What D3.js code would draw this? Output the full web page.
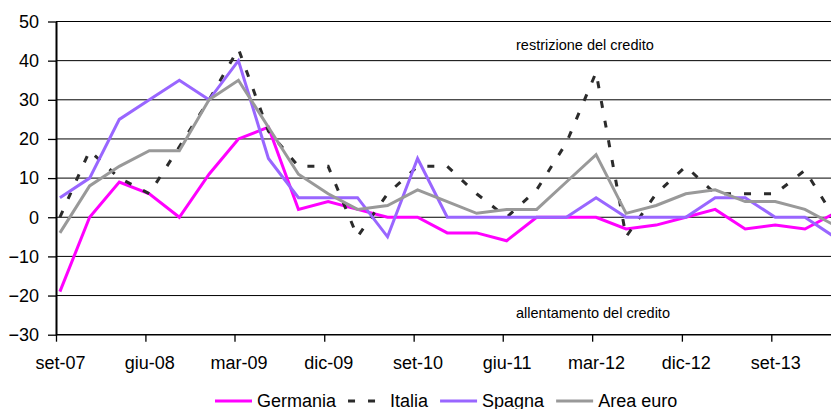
<!DOCTYPE html>
<html>
<head>
<meta charset="utf-8">
<script src="https://cdn.jsdelivr.net/npm/d3@7/dist/d3.min.js"></script>
<style>
  html, body { margin: 0; padding: 0; background: #fff; }
  svg { display: block; font-family: "Liberation Sans", Arial, sans-serif; }
</style>
</head>
<body>
<div id="chart"></div>
<script>
// quarterly survey points, set-07 .. mar-14
const quarters = ['set-07', 'dic-07', 'mar-08', 'giu-08', 'set-08', 'dic-08', 'mar-09', 'giu-09', 'set-09',
    'dic-09', 'mar-10', 'giu-10', 'set-10', 'dic-10', 'mar-11', 'giu-11', 'set-11', 'dic-11', 'mar-12',
    'giu-12', 'set-12', 'dic-12', 'mar-13', 'giu-13', 'set-13', 'dic-13', 'mar-14'];
const tickLabels = ['set-07', 'giu-08', 'mar-09', 'dic-09', 'set-10', 'giu-11', 'mar-12', 'dic-12', 'set-13'];
const yTicks = [-30, -20, -10, 0, 10, 20, 30, 40, 50];

const germania = [-19, 0, 9, 6, 0, 11, 20, 23, 2, 4, 2, 0, 0, -4, -4, -6, 0, 0, 0, -3, -2, 0, 2, -3, -2, -3, 1];
const italia = [0, 17, 10, 6, 18, 30, 43, 22, 13, 13, -5, 6, 13, 13, 6, 0, 7, 19, 37, -5, 6, 13, 6, 6, 6, 12, 0];
const spagna = [5, 10, 25, 30, 35, 30, 40, 15, 5, 5, 5, -5, 15, 0, 0, 0, 0, 0, 5, 0, 0, 0, 5, 5, 0, 0, -5];
const areaEuro = [-4, 8, 13, 17, 17, 30, 35, 23, 11, 6, 2, 3, 7, 4, 1, 2, 2, 9, 16, 1, 3, 6, 7, 4, 4, 2, -2];

const seriesNames = ['Germania', 'Italia', 'Spagna', 'Area euro'];
const seriesValues = [germania, italia, spagna, areaEuro];

(function drawChart() {
    const WIDTH = 831;
    const HEIGHT = 409;
    const PLOT_LEFT = 56;
    const FONT = 18;

    const styles = {
        'Germania': { color: '#ff00ff', dash: null },
        'Italia': { color: '#2b2b2b', dash: '7,13' },
        'Spagna': { color: '#9966ff', dash: null },
        'Area euro': { color: '#999999', dash: null }
    };

    const MONTHS = { gen: 0, feb: 1, mar: 2, apr: 3, mag: 4, giu: 5, lug: 6, ago: 7, set: 8, ott: 9, nov: 10, dic: 11 };
    const toDate = (label, day) => {
        const [m, yy] = label.split('-');
        return new Date(2000 + +yy, MONTHS[m], day);
    };

    const pointDates = quarters.map(q => toDate(q, 13));
    const labelDates = tickLabels.map(q => toDate(q, 13));
    const tickDates = tickLabels.map(q => toDate(q, 1));

    const x = d3.scaleTime()
        .domain([tickDates[0], tickDates[tickDates.length - 1]])
        .range([PLOT_LEFT, 771.3]);

    const y = d3.scaleLinear()
        .domain([-30, 50])
        .range([334.7, 21.5]);

    const svg = d3.select('#chart')
        .append('svg')
        .attr('width', WIDTH)
        .attr('height', HEIGHT);

    // horizontal gridlines
    svg.append('g')
        .selectAll('line')
        .data(yTicks.filter(v => v > -30))
        .join('line')
        .attr('x1', PLOT_LEFT)
        .attr('x2', WIDTH)
        .attr('y1', d => y(d))
        .attr('y2', d => y(d))
        .attr('stroke', '#000')
        .attr('stroke-width', 1);

    // x axis line and tick marks
    svg.append('line')
        .attr('x1', PLOT_LEFT)
        .attr('x2', WIDTH)
        .attr('y1', y(-30))
        .attr('y2', y(-30))
        .attr('stroke', '#000')
        .attr('stroke-width', 1.6);

    const xTicks = svg.append('g')
        .attr('transform', `translate(0,${y(-30)})`)
        .call(d3.axisBottom(x).tickValues(tickDates).tickSize(7).tickSizeOuter(0).tickFormat(''));
    xTicks.select('.domain').remove();
    xTicks.selectAll('.tick line').attr('stroke', '#000').attr('stroke-width', 1.3);

    const xLabels = svg.append('g')
        .attr('transform', `translate(0,${y(-30)})`)
        .call(d3.axisBottom(x).tickValues(labelDates).tickSize(0).tickPadding(22)
            .tickFormat((d, i) => tickLabels[i]));
    xLabels.select('.domain').remove();
    xLabels.attr('font-size', FONT).attr('font-family', null);
    xLabels.selectAll('text').attr('fill', '#000');

    // y axis
    const yAxis = svg.append('g')
        .attr('transform', `translate(${PLOT_LEFT},0)`)
        .call(d3.axisLeft(y).tickValues(yTicks).tickSize(8).tickSizeOuter(0).tickPadding(9));
    yAxis.attr('font-size', FONT).attr('font-family', null);
    yAxis.select('.domain').attr('stroke', '#000').attr('stroke-width', 2);
    yAxis.selectAll('.tick line').attr('stroke', '#000').attr('stroke-width', 1.3);
    yAxis.selectAll('text').attr('fill', '#000');

    // annotations
    svg.append('text')
        .attr('x', 516)
        .attr('y', 50)
        .attr('font-size', 14.5)
        .text('restrizione del credito');

    svg.append('text')
        .attr('x', 516)
        .attr('y', 318)
        .attr('font-size', 14.5)
        .text('allentamento del credito');

    // series
    const line = d3.line()
        .x((d, i) => x(pointDates[i]))
        .y(d => y(d));

    seriesNames.forEach((name, k) => {
        svg.append('path')
            .datum(seriesValues[k])
            .attr('d', line)
            .attr('fill', 'none')
            .attr('stroke', styles[name].color)
            .attr('stroke-width', 3)
            .attr('stroke-dasharray', styles[name].dash)
            .attr('stroke-linejoin', 'miter');
    });

    // legend
    const legend = svg.append('g').attr('transform', 'translate(215,0)');
    let cursor = 0;
    seriesNames.forEach(name => {
        const item = legend.append('g').attr('transform', `translate(${cursor},0)`);
        item.append('line')
            .attr('x1', 0)
            .attr('x2', 37)
            .attr('y1', 401)
            .attr('y2', 401)
            .attr('stroke', styles[name].color)
            .attr('stroke-width', 3)
            .attr('stroke-dasharray', styles[name].dash);
        const label = item.append('text')
            .attr('x', 42)
            .attr('y', 406.5)
            .attr('font-size', FONT)
            .text(name);
        cursor += 42 + label.node().getComputedTextLength() + 12;
    });
})();
</script>
</body>
</html>
